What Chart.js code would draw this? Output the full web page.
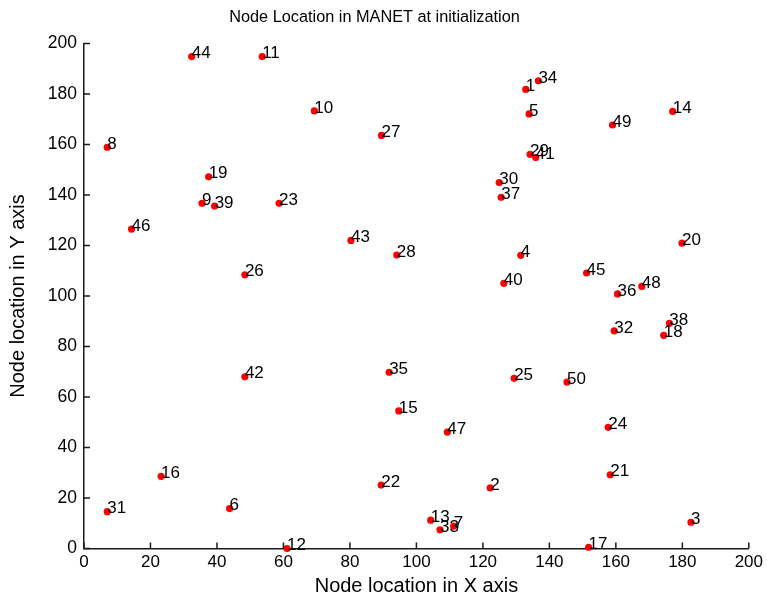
<!DOCTYPE html>
<html>
<head>
<meta charset="utf-8">
<script src="https://cdn.jsdelivr.net/npm/chart.js@4"></script>
<style>
html,body{margin:0;padding:0;background:#fff;}
#wrap{width:767px;height:598px;}
</style>
</head>
<body>
<div id="wrap"><canvas id="c" width="767" height="598"></canvas></div>
<script>
// Node ids and their coordinates
const nodeIds = [1,2,3,4,5,6,7,8,9,10,11,12,13,14,15,16,17,18,19,20,21,22,23,24,25,26,27,28,29,30,31,32,33,34,35,36,37,38,39,40,41,42,43,44,45,46,47,48,49,50];
const nodeX = [132.9,122.2,182.6,131.4,133.9,43.8,111.2,7.0,35.5,69.3,53.6,61.1,104.3,177.1,94.7,23.2,151.8,174.4,37.5,179.9,158.3,89.4,58.7,157.7,129.4,48.4,89.5,94.1,134.2,124.9,7.0,159.5,107.1,136.7,91.8,160.5,125.5,176.1,39.3,126.3,135.9,48.4,80.3,32.4,151.2,14.3,109.3,167.8,159.0,145.3];
const nodeY = [181.8,24.0,10.4,116.1,172.1,15.8,8.9,158.9,136.7,173.3,194.8,0.0,11.2,173.1,54.5,28.6,0.5,84.4,147.2,120.9,29.2,25.1,136.7,48.0,67.4,108.4,163.6,116.2,156.1,144.9,14.6,86.2,7.4,185.2,69.8,100.8,139.1,89.2,135.6,105.0,154.8,68.0,122.0,194.8,109.1,126.5,46.1,103.8,167.7,65.9];
const xTicks = [0,20,40,60,80,100,120,140,160,180,200];
const yTicks = [0,20,40,60,80,100,120,140,160,180,200];
const titleText = 'Node Location in MANET at initialization';
const xTitle = 'Node location in X axis';
const yTitle = 'Node location in Y axis';

const points = nodeIds.map((id, i) => ({x: nodeX[i], y: nodeY[i], id: id}));
const FONT = 'Arial, "Liberation Sans", Helvetica, sans-serif';
const AXIS_COLOR = '#1a1a1a';

const labelPlugin = {
  id: 'nodeLabels',
  afterDatasetsDraw(chart) {
    const ctx = chart.ctx;
    const meta = chart.getDatasetMeta(0);
    ctx.save();
    ctx.font = '17px ' + FONT;
    ctx.fillStyle = '#000';
    ctx.textAlign = 'left';
    ctx.textBaseline = 'middle';
    meta.data.forEach((el, i) => {
      ctx.fillText(String(points[i].id), el.x, el.y - 3);
    });
    ctx.restore();
  }
};

const inwardTicks = {
  id: 'inwardTicks',
  afterDraw(chart) {
    const ctx = chart.ctx;
    const xs = chart.scales.x, ys = chart.scales.y;
    const len = 6;
    ctx.save();
    ctx.strokeStyle = AXIS_COLOR;
    ctx.lineWidth = 1.5;
    ctx.beginPath();
    xTicks.forEach(v => {
      const px = xs.getPixelForValue(v);
      ctx.moveTo(px, ys.bottom);
      ctx.lineTo(px, ys.bottom - len);
    });
    yTicks.forEach(v => {
      const py = ys.getPixelForValue(v);
      ctx.moveTo(xs.left, py);
      ctx.lineTo(xs.left + len, py);
    });
    ctx.stroke();
    ctx.restore();
  }
};

new Chart(document.getElementById('c'), {
  type: 'scatter',
  data: {
    datasets: [{
      data: points,
      backgroundColor: '#ff0000',
      borderColor: '#ff0000',
      borderWidth: 0,
      pointRadius: 3.6,
      pointHoverRadius: 3.6,
      clip: false
    }]
  },
  options: {
    responsive: false,
    animation: false,
    events: [],
    layout: {padding: {left: 0, right: 18, top: 0, bottom: 0}},
    plugins: {
      legend: {display: false},
      tooltip: {enabled: false},
      title: {
        display: true,
        text: titleText,
        color: '#000',
        font: {family: FONT, size: 16.3, weight: 'normal', lineHeight: 1.2},
        padding: {top: 7.7, bottom: 16.2}
      }
    },
    scales: {
      x: {
        type: 'linear',
        min: 0, max: 200,
        afterBuildTicks(scale) { scale.ticks = xTicks.map(v => ({value: v})); },
        afterFit(scale) { scale.height = 49.5; },
        ticks: {
          color: '#000',
          font: {family: FONT, size: 17},
          padding: 4,
          maxRotation: 0,
          autoSkip: false,
          callback: v => String(v)
        },
        grid: {display: true, drawOnChartArea: false, drawTicks: false},
        border: {display: true, color: AXIS_COLOR, width: 1.5},
        title: {
          display: true,
          text: xTitle,
          color: '#000',
          font: {family: FONT, size: 20},
          padding: {top: 0, bottom: 0}
        }
      },
      y: {
        type: 'linear',
        min: 0, max: 200,
        afterBuildTicks(scale) { scale.ticks = yTicks.map(v => ({value: v})); },
        afterFit(scale) { scale.width = 84; },
        ticks: {
          color: '#000',
          font: {family: FONT, size: 17.5},
          padding: 7,
          autoSkip: false,
          callback: v => String(v)
        },
        grid: {display: true, drawOnChartArea: false, drawTicks: false},
        border: {display: true, color: AXIS_COLOR, width: 1.5},
        title: {
          display: true,
          text: yTitle,
          color: '#000',
          font: {family: FONT, size: 20},
          padding: {top: 6, bottom: 0}
        }
      }
    }
  },
  plugins: [labelPlugin, inwardTicks]
});
</script>
</body>
</html>
